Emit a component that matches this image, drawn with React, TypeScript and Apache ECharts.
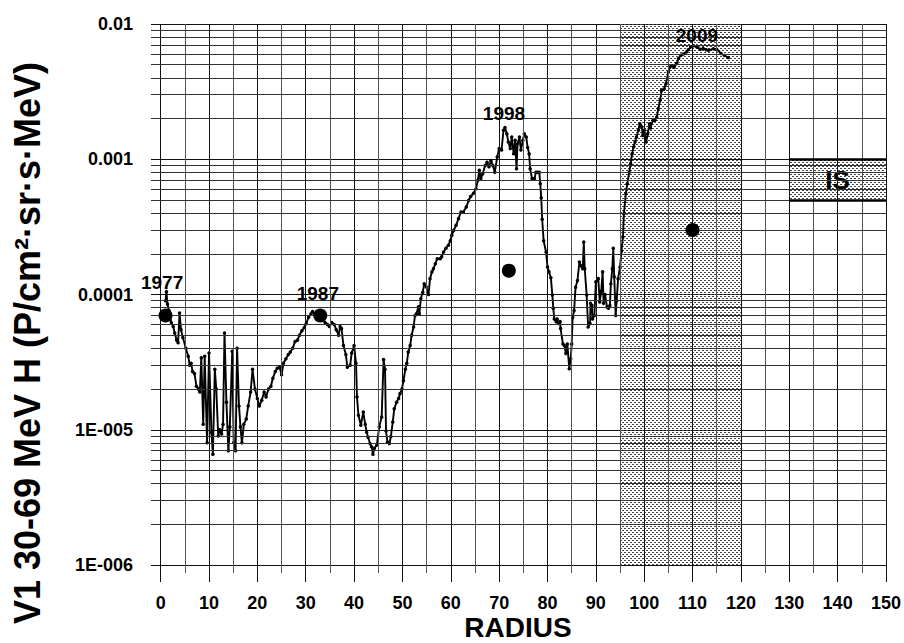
import React, { useEffect, useRef } from 'react';
import * as echarts from 'echarts';

const radius = [
  1.0, 1.2, 1.4, 1.7, 2.2, 2.6, 2.9, 3.3, 3.6, 3.9, 4.2, 4.6, 5.2, 5.7, 6.0, 6.3, 6.6, 7.0, 7.4, 7.8,
  8.1, 8.4, 8.8, 9.1, 9.6, 10.0, 10.5, 10.8, 11.2, 11.5, 11.9, 12.2, 12.6, 12.9, 13.2, 13.6, 14.0, 14.3, 14.8, 15.1,
  15.5, 15.8, 16.2, 16.5, 16.8, 17.2, 17.7, 18.1, 18.6, 19.0, 19.5, 20.0, 20.4, 20.9, 21.4, 21.8, 22.3, 22.8, 23.2, 23.7,
  24.1, 24.6, 25.0, 25.4, 25.9, 26.4, 26.8, 27.3, 27.8, 28.3, 28.7, 29.2, 29.7, 30.1, 30.6, 31.1, 31.4, 31.9, 32.4, 33.0,
  33.5, 34.0, 34.5, 34.9, 35.4, 35.9, 36.3, 36.8, 37.1, 37.4, 37.8, 38.3, 38.6, 39.2, 39.5, 40.0, 40.4, 40.6, 40.9, 41.4,
  41.9, 42.3, 42.6, 42.9, 43.3, 43.6, 43.9, 44.2, 44.7, 45.2, 45.7, 46.1, 46.4, 46.6, 46.9, 47.3, 47.6, 48.0, 48.3, 48.8,
  49.2, 49.5, 49.9, 50.2, 50.6, 50.9, 51.2, 51.6, 51.9, 52.3, 52.6, 52.9, 53.3, 53.5, 53.8, 54.2, 54.5, 54.9, 55.4, 55.7,
  56.1, 56.4, 56.8, 57.2, 57.8, 58.1, 58.5, 59.0, 59.5, 59.9, 60.2, 60.6, 61.1, 61.6, 62.1, 62.6, 63.2, 63.7, 64.1, 64.7,
  65.2, 65.6, 65.9, 66.2, 66.6, 67.1, 67.5, 67.9, 68.3, 68.7, 69.1, 69.6, 70.0, 70.5, 70.9, 71.2, 71.6, 71.9, 72.3, 72.6,
  73.0, 73.3, 73.6, 73.8, 74.2, 74.5, 74.9, 75.2, 75.6, 75.9, 76.2, 76.4, 76.8, 77.3, 77.6, 78.0, 78.3, 78.5, 78.7, 78.9,
  79.2, 79.7, 80.0, 80.3, 80.7, 81.0, 81.2, 81.4, 81.8, 82.0, 82.3, 82.6, 82.7, 83.2, 83.5, 83.8, 84.1, 84.5, 84.8, 85.0,
  85.2, 85.5, 85.8, 86.2, 86.6, 86.9, 87.3, 87.5, 87.7, 88.1, 88.4, 88.8, 88.9, 89.2, 89.3, 89.7, 90.0, 90.5, 90.8, 91.1,
  91.4, 91.6, 91.9, 92.3, 92.6, 92.9, 93.1, 93.4, 93.6, 93.8, 94.1, 94.3, 94.6, 95.0, 95.3, 95.6, 95.8, 96.2, 96.5, 96.9,
  97.2, 97.5, 97.8, 98.1, 98.4, 98.8, 99.1, 99.5, 99.7, 100.0, 100.4, 100.7, 101.1, 101.3, 101.8, 102.2, 102.6, 102.9, 103.3, 103.6,
  104.1, 104.5, 105.0, 105.3, 105.7, 106.2, 106.7, 107.1, 107.6, 108.1, 108.7, 109.1, 109.6, 110.2, 110.9, 111.6, 112.2, 112.8, 113.3, 114.3,
  115.0, 115.9, 116.6, 117.4,
];

const flux = [
  9.0e-5, 1.05e-4, 8.5e-5, 7.6e-5, 6.2e-5, 5.8e-5, 5.2e-5, 4.6e-5, 4.4e-5, 7.3e-5, 5.5e-5, 4.8e-5, 4.0e-5, 3.5e-5, 3.0e-5, 3.1e-5, 2.7e-5, 2.6e-5, 2.1e-5, 2.0e-5,
  1.9e-5, 3.4e-5, 1.1e-5, 3.5e-5, 8.0e-6, 3.7e-5, 9.5e-6, 6.6e-6, 2.8e-5, 2.0e-5, 9.0e-6, 1.0e-5, 9.3e-6, 1.1e-5, 5.2e-5, 1.6e-5, 7.0e-6, 1.05e-5, 3.8e-5, 8.0e-6,
  7.0e-6, 4.0e-5, 1.5e-5, 1.05e-5, 8.0e-6, 1.1e-5, 1.2e-5, 1.5e-5, 1.9e-5, 2.8e-5, 2.0e-5, 1.7e-5, 1.5e-5, 1.65e-5, 1.9e-5, 1.75e-5, 2.0e-5, 2.1e-5, 2.4e-5, 2.7e-5,
  2.85e-5, 2.9e-5, 2.55e-5, 3.1e-5, 3.35e-5, 3.6e-5, 3.75e-5, 4.0e-5, 4.5e-5, 4.6e-5, 5.0e-5, 5.4e-5, 5.7e-5, 6.1e-5, 6.8e-5, 7.2e-5, 7.5e-5, 7.2e-5, 7.3e-5, 7.0e-5,
  6.6e-5, 6.2e-5, 6.0e-5, 5.8e-5, 6.2e-5, 6.0e-5, 5.5e-5, 5.0e-5, 5.8e-5, 5.6e-5, 4.2e-5, 3.6e-5, 2.9e-5, 3.0e-5, 3.7e-5, 4.2e-5, 3.1e-5, 1.75e-5, 1.28e-5, 1.08e-5,
  1.35e-5, 1.1e-5, 9.6e-6, 8.8e-6, 7.9e-6, 7.5e-6, 6.6e-6, 7.3e-6, 7.7e-6, 1.05e-5, 1.24e-5, 3.3e-5, 2.8e-5, 9.8e-6, 8.1e-6, 7.9e-6, 8.9e-6, 1.14e-5, 1.43e-5, 1.6e-5,
  1.7e-5, 1.85e-5, 2.0e-5, 2.3e-5, 2.8e-5, 3.1e-5, 3.75e-5, 4.2e-5, 5.0e-5, 5.75e-5, 7.0e-5, 7.2e-5, 8.1e-5, 7.2e-5, 9.3e-5, 1.04e-4, 1.2e-4, 1.14e-4, 1.0e-4, 1.31e-4,
  1.47e-4, 1.55e-4, 1.69e-4, 1.84e-4, 1.84e-4, 1.9e-4, 2.06e-4, 2.2e-4, 2.31e-4, 2.5e-4, 2.74e-4, 2.98e-4, 3.25e-4, 3.64e-4, 4.08e-4, 4.08e-4, 4.44e-4, 4.97e-4, 5.3e-4, 5.6e-4,
  6.06e-4, 7.0e-4, 8.3e-4, 7.2e-4, 7.8e-4, 9.0e-4, 9.5e-4, 8.8e-4, 9.8e-4, 9.0e-4, 8.0e-4, 1.04e-3, 1.2e-3, 1.17e-3, 1.64e-3, 1.72e-3, 1.54e-3, 1.34e-3, 1.2e-3, 1.46e-3,
  1.1e-3, 1.38e-3, 8.5e-4, 1.3e-3, 1.46e-3, 1.17e-3, 1.38e-3, 1.54e-3, 1.46e-3, 1.22e-3, 1.1e-3, 8.5e-4, 7.2e-4, 7.2e-4, 8.0e-4, 8.0e-4, 8.0e-4, 6.6e-4, 5.2e-4, 3.6e-4,
  2.5e-4, 2.06e-4, 1.6e-4, 1.47e-4, 1.33e-4, 9.9e-5, 7.9e-5, 6.6e-5, 6.3e-5, 6.6e-5, 6.1e-5, 6.3e-5, 5.6e-5, 4.3e-5, 4.2e-5, 3.66e-5, 4.3e-5, 2.83e-5, 3.35e-5, 4.3e-5,
  6.8e-5, 7.6e-5, 1.13e-4, 1.27e-4, 1.74e-4, 1.63e-4, 1.55e-4, 2.44e-4, 1.55e-4, 9.9e-5, 5.75e-5, 6.1e-5, 8.6e-5, 8.3e-5, 6.6e-5, 7.0e-5, 1.24e-4, 1.31e-4, 8.8e-5, 1.05e-4,
  1.47e-4, 8.6e-5, 1.0e-4, 8.1e-5, 7.9e-5, 8.3e-5, 1.2e-4, 1.55e-4, 2.2e-4, 1.35e-4, 7.0e-5, 9.0e-5, 1.31e-4, 1.6e-4, 2.1e-4, 2.66e-4, 3.96e-4, 5.57e-4, 6.6e-4, 8.0e-4,
  9.3e-4, 1.1e-3, 1.23e-3, 1.34e-3, 1.46e-3, 1.64e-3, 1.83e-3, 1.74e-3, 1.5e-3, 1.64e-3, 1.34e-3, 1.54e-3, 1.83e-3, 1.7e-3, 1.94e-3, 1.94e-3, 2.05e-3, 2.37e-3, 2.73e-3, 3.23e-3,
  3.3e-3, 3.62e-3, 4.42e-3, 4.8e-3, 4.9e-3, 4.8e-3, 5.1e-3, 5.55e-3, 5.87e-3, 6.0e-3, 6.2e-3, 6.45e-3, 6.75e-3, 6.9e-3, 6.75e-3, 6.5e-3, 6.6e-3, 6.45e-3, 6.4e-3, 6.55e-3,
  6.5e-3, 6.05e-3, 5.85e-3, 5.65e-3,
];

const dotRadius = [1, 33, 72, 110];
const dotFlux = [7e-5, 7e-5, 1.5e-4, 3e-4];

const yearNames = ['1977', '1987', '1998', '2009'];
const yearRadius = [0.3, 32.5, 71, 110.9];
const yearFlux = [1.22e-4, 1.02e-4, 2.18e-3, 8.2e-3];

const xMajorTicks = [0, 10, 20, 30, 40, 50, 60, 70, 80, 90, 100, 110, 120, 130, 140, 150];
const xMinorTicks = [5, 15, 25, 35, 45, 55, 65, 75, 85, 95, 105, 115, 125, 135, 145];
const yTickLabels = ['1E-006', '1E-005', '0.0001', '0.001', '0.01'];
const yDecades = [-6, -5, -4, -3];
const yMantissas = [2, 3, 4, 5, 6, 7, 8, 9];

const xRange = [-2, 150];
const shadeX = [95, 120];
const isX = [130, 150];
const isY = [5e-4, 1e-3];

const FONT = '"Liberation Sans", Arial, Helvetica, sans-serif';

export default function App() {
  const ref = useRef<HTMLDivElement>(null);
  useEffect(() => {
    const chart = echarts.init(ref.current!, null, { renderer: 'svg' });

    const cv = document.createElement('canvas');
    cv.width = 4;
    cv.height = 4;
    const ctx = cv.getContext('2d')!;
    ctx.fillStyle = '#444';
    ctx.fillRect(0, 0, 2, 1);
    ctx.fillRect(2, 2, 2, 1);
    const pattern: any = { image: cv, repeat: 'repeat', imageWidth: 4, imageHeight: 4 };

    const lineData = radius.map((r, i) => [r, flux[i]]);

    const vLines: any[] = [];
    for (let v = 0; v <= 150; v += 5) {
      vLines.push({ xAxis: v, lineStyle: { color: v % 10 === 0 ? '#111' : '#555' } });
    }
    const hLines: any[] = [];
    yDecades.forEach((d) =>
      yMantissas.forEach((m) => {
        const v = m * Math.pow(10, d);
        hLines.push([
          { coord: [xRange[0], v], lineStyle: { color: '#333' } },
          { coord: [xRange[1], v] },
        ]);
      })
    );

    const option: any = {
      animation: false,
      backgroundColor: '#fff',
      grid: { left: 151, top: 24, width: 735, height: 541, containLabel: false },
      xAxis: [
        {
          type: 'value',
          min: xRange[0],
          max: xRange[1],
          position: 'bottom',
          axisLine: { show: false },
          splitLine: { show: false },
          axisTick: { show: true, customValues: xMajorTicks, length: 17, lineStyle: { color: '#111', width: 1 } },
          axisLabel: {
            show: true,
            customValues: xMajorTicks,
            margin: 29,
            color: '#000',
            fontSize: 18,
            fontWeight: 'bold',
            fontFamily: FONT,
          },
        },
        {
          type: 'value',
          min: xRange[0],
          max: xRange[1],
          position: 'bottom',
          axisLine: { show: false },
          splitLine: { show: false },
          axisTick: { show: true, customValues: xMinorTicks, length: 8, lineStyle: { color: '#555', width: 1 } },
          axisLabel: { show: false },
        },
      ],
      yAxis: {
        type: 'log',
        logBase: 10,
        min: 1e-6,
        max: 1e-2,
        axisLine: { show: false },
        axisTick: { show: true, length: 9, lineStyle: { color: '#111', width: 1 } },
        splitLine: { show: true, lineStyle: { color: '#111', width: 1 } },
        minorTick: { show: false },
        axisLabel: {
          margin: 18,
          color: '#000',
          fontSize: 18,
          fontWeight: 'bold',
          fontFamily: FONT,
          formatter: (v: number) => yTickLabels[Math.round(Math.log10(v)) + 6] || '',
        },
      },
      graphic: [
        {
          type: 'text',
          x: 27,
          y: 343,
          rotation: Math.PI / 2,
          style: {
            text: 'V1 30-69 MeV H (P/cm²·sr·s·MeV)',
            font: 'bold 36px ' + FONT,
            fill: '#000',
            align: 'center',
            verticalAlign: 'middle',
          },
        },
        {
          type: 'text',
          x: 518,
          y: 627,
          style: {
            text: 'RADIUS',
            font: 'bold 28px ' + FONT,
            fill: '#000',
            align: 'center',
            verticalAlign: 'middle',
          },
        },
      ],
      series: [
        {
          type: 'line',
          z: 1,
          silent: true,
          data: [[xRange[0], 1e-6]],
          symbol: 'none',
          lineStyle: { opacity: 0 },
          markArea: {
            silent: true,
            itemStyle: { color: pattern },
            data: [
              [{ xAxis: shadeX[0], yAxis: 1e-6 }, { xAxis: shadeX[1], yAxis: 1e-2 }],
              [{ xAxis: isX[0], yAxis: isY[0], name: 'IS' }, { xAxis: isX[1], yAxis: isY[1] }],
            ],
            label: {
              show: true,
              position: 'inside',
              formatter: (p: any) => (p.name === 'IS' ? 'IS' : ''),
              color: '#000',
              fontSize: 26,
              fontWeight: 'bold',
              fontFamily: FONT,
            },
          },
        },
        {
          type: 'line',
          z: 2,
          silent: true,
          data: [[xRange[0], 1e-6]],
          symbol: 'none',
          lineStyle: { opacity: 0 },
          markLine: {
            silent: true,
            symbol: ['none', 'none'],
            label: { show: false },
            lineStyle: { type: 'solid', width: 1 },
            emphasis: { disabled: true },
            data: [...vLines, ...hLines],
          },
        },
        {
          type: 'line',
          z: 3,
          silent: true,
          data: [[xRange[0], 1e-6]],
          symbol: 'none',
          lineStyle: { opacity: 0 },
          markLine: {
            silent: true,
            symbol: ['none', 'none'],
            label: { show: false },
            lineStyle: { type: 'solid', width: 2.5, color: '#000' },
            emphasis: { disabled: true },
            data: [
              [{ coord: [isX[0], isY[1]] }, { coord: [isX[1], isY[1]] }],
              [{ coord: [isX[0], isY[0]] }, { coord: [isX[1], isY[0]] }],
            ],
          },
        },
        {
          type: 'line',
          z: 4,
          data: lineData,
          showSymbol: true,
          symbol: 'circle',
          symbolSize: 3.5,
          itemStyle: { color: '#000' },
          lineStyle: { color: '#000', width: 1.9 },
        },
        {
          type: 'scatter',
          z: 5,
          data: dotRadius.map((r, i) => [r, dotFlux[i]]),
          symbol: 'circle',
          symbolSize: 14,
          itemStyle: { color: '#000', opacity: 1 },
        },
        {
          type: 'scatter',
          z: 6,
          data: yearNames.map((n, i) => ({ name: n, value: [yearRadius[i], yearFlux[i]] })),
          symbolSize: 2,
          itemStyle: { color: 'rgba(0,0,0,0)', opacity: 1 },
          label: {
            show: true,
            position: 'inside',
            formatter: '{b}',
            color: '#000',
            opacity: 1,
            fontSize: 19,
            fontWeight: 'bold',
            fontFamily: FONT,
          },
        },
      ],
    };
    chart.setOption(option);
    return () => chart.dispose();
  }, []);
  return (
    <div
      ref={ref}
      style={{ position: 'absolute', left: 0, top: 0, width: 904, height: 643, background: '#fff' }}
    />
  );
}
